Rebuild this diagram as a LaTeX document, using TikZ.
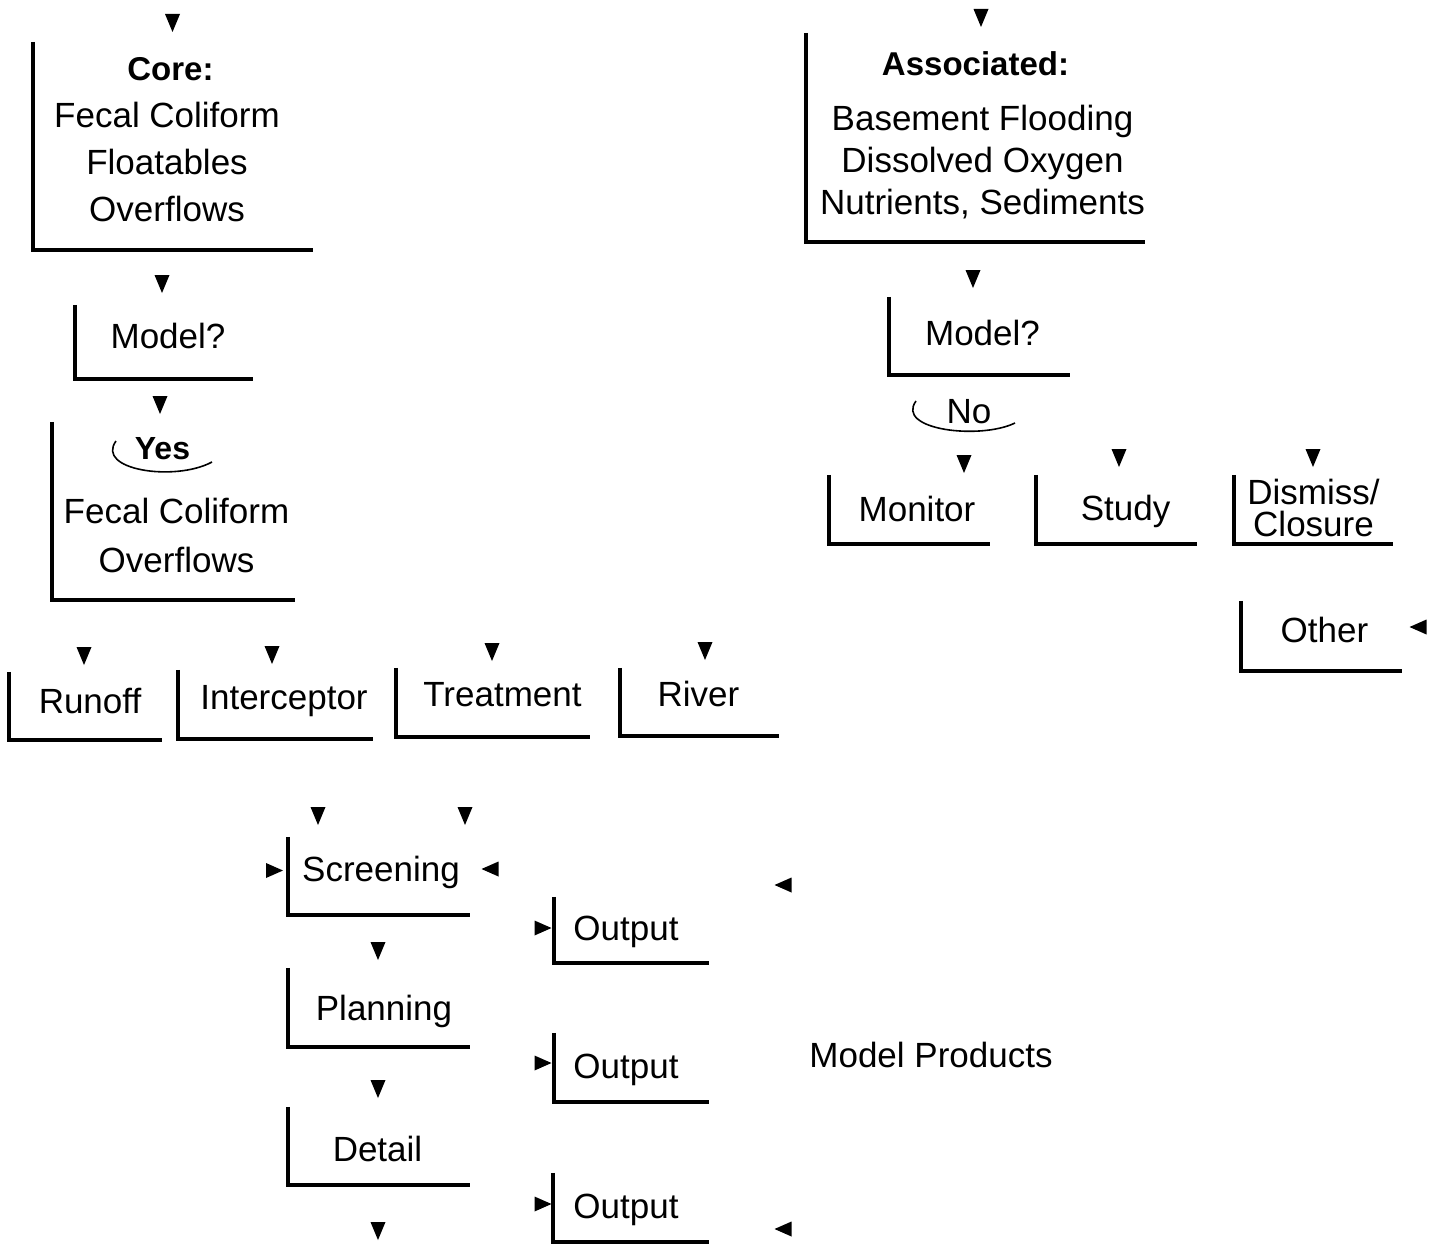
\documentclass[tikz,border=0pt]{standalone}
\usepackage{fontspec}
\setmainfont{Liberation Sans}
\usetikzlibrary{positioning}

\begin{document}
\begin{tikzpicture}[
	    x=1pt, y=-1pt,
	    lbox/.style 2 args={rectangle, inner sep=0pt, align=center, minimum width=#1pt, minimum height=#2pt, font=\fontsize{35}{42}\selectfont},
	    tx/.style={execute at begin node={\hspace*{#1pt}}},
	    ty/.style={text height=#1pt, text depth=0pt},
	    lline/.style={line width=4pt, line join=miter},
	    onlytext/.style={align=center, inner sep=0pt, font=\fontsize{35}{42}\selectfont},
	    decision/.style={line width=1.6pt},
	    tipd/.pic={\fill (-7.5,-9) -- (7.5,-9) -- (0,9) -- cycle;},
	    tipr/.pic={\fill (-8.5,-7.5) -- (-8.5,7.5) -- (8.5,0) -- cycle;},
	    tipl/.pic={\fill (8.5,-7.5) -- (8.5,7.5) -- (-8.5,0) -- cycle;},
	]
	\useasboundingbox (0,0) rectangle (1432,1247);

	% Core branch
    \node[lbox={280}{208}, font=\fontsize{35}{47}\selectfont, text depth=14pt] (core) at (173,146) {\hspace*{-5pt}{\fontsize{33}{47}\selectfont\bfseries Core:}\\\hspace*{-12pt}Fecal Coliform\\\hspace*{-12pt}Floatables\\\hspace*{-12pt}Overflows};
    \node[lbox={178}{74}, tx=8, ty=13] (coremodel) at (164,342) {Model?};
    \node[lbox={243}{178}, text depth=12pt] (yesbox) at (173.5,511) {\hspace*{-22pt}{\fontsize{32}{42}\selectfont\bfseries Yes}\\[22pt]\hspace*{6pt}Fecal Coliform\\[7pt]\hspace*{6pt}Overflows};
    \draw [decision] (116,441) .. controls (95,470) and (175,482) .. (212,462);

    % Models
    \node[lbox={153}{68}, tx=9, ty=15] (runoff) at (85.5,706) {Runoff};
    \node[lbox={195}{69}, tx=17, ty=10] (interceptor) at (275.5,704.5) {Interceptor};
    \node[lbox={194}{69}, tx=19, ty=7] (treatment) at (493,702.5) {Treatment};
    \node[lbox={159}{68}, tx=-2, ty=8] (river) at (699.5,702) {River};

    % Levels and products
    \node[lbox={182}{78}, tx=4, ty=11] (screening) at (379,876) {Screening};
    \node[lbox={182}{79}, tx=10, ty=25] (planning) at (379,1007.5) {Planning};
    \node[lbox={182}{78}, tx=-3, ty=31] (detail) at (379,1146) {Detail};
    \node[lbox={155}{66}, tx=-11, ty=20] (output1) at (631.5,930) {Output};
    \node[lbox={155}{69}, tx=-11, ty=22] (output2) at (631.5,1067.5) {Output};
    \node[lbox={156}{69}, tx=-10, ty=22] (output3) at (631,1207.5) {Output};
    \node[onlytext] (products) at (931,1055) {Model Products};

    % Associated branch
    \node[lbox={335}{209}, text depth=8pt] (assoc) at (975.5,137.5) {{\fontsize{33}{42}\selectfont\bfseries Associated:}\\[13pt]\hspace*{14pt}Basement Flooding\\\hspace*{14pt}Dissolved Oxygen\\\hspace*{14pt}Nutrients, Sediments};
    \node[lbox={181}{78}, tx=6, ty=18] (assocmodel) at (979.5,336) {Model?};
    \node[onlytext] (nolabel) at (969,411.5) {No};
    \draw [decision] (916,401) .. controls (895,430) and (980,440) .. (1015,423);
    \node[lbox={161}{69}, tx=15, ty=24] (monitor) at (909.5,509.5) {Monitor};
    \node[lbox={161}{69}, tx=18, ty=21] (study) at (1116.5,509.5) {Study};
    \node[lbox={159}{69}, font=\fontsize{35}{32}\selectfont, text depth=4pt] (dismiss) at (1313.5,509.5) {Dismiss/\\Closure};
    \node[lbox={161}{70}, tx=6, ty=13] (other) at (1321.5,636) {Other};

    % L-shaped frames
    \foreach \b in {core,coremodel,yesbox,runoff,interceptor,treatment,river,screening,planning,detail,output1,output2,output3,assoc,assocmodel,monitor,study,dismiss,other}
        \draw [lline] (\b.north west) |- (\b.south east);

    % arrow tips
    \foreach \p in {(172.5,23),(162,284),(160,405),(84,656),(272,655),(492,652),(705,651),(318,816),(465,816),(378,951),(378,1089),(378,1231),(981,18),(973,279),(964,464),(1119,458),(1313,458)}
        \pic at \p {tipd};
    \foreach \p in {(274.5,870.5),(543,928),(543,1063),(543,1204)}
        \pic at \p {tipr};
    \foreach \p in {(490,869),(783,885),(783,1229),(1418,627)}
        \pic at \p {tipl};

\end{tikzpicture}
\end{document}
